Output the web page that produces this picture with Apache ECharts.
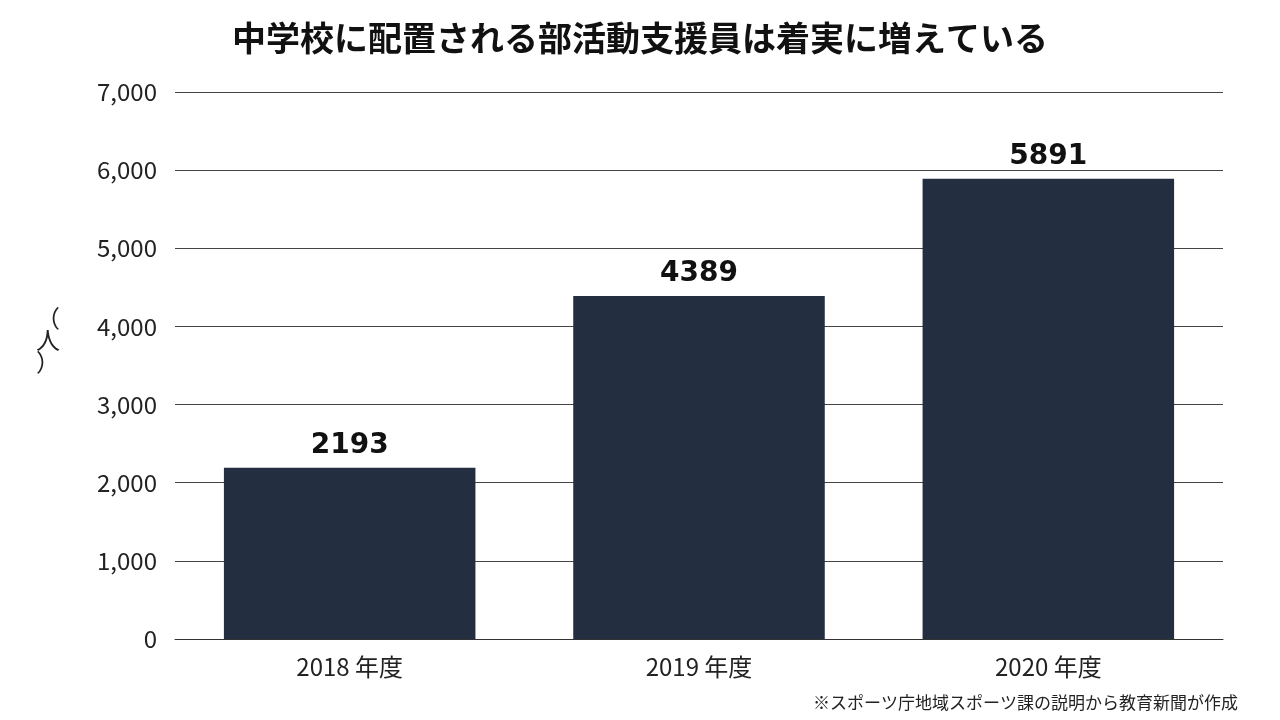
<!DOCTYPE html>
<html><head><meta charset="utf-8">
<script src="https://cdn.jsdelivr.net/npm/echarts@6/dist/echarts.min.js"></script>
<style>html,body{margin:0;background:#fff}#c{width:1280px;height:720px}</style>
</head><body><div id="c"></div>
<script>
const categories = ["2018 年度", "2019 年度", "2020 年度"];
const values = [2193, 4389, 5891];
const font = "'Noto Sans CJK JP', 'Noto Sans', sans-serif";

const chart = echarts.init(document.getElementById("c"));
chart.setOption({
  animation: false,
  title: {
    text: "中学校に配置される部活動支援員は着実に増えている",
    left: "center", top: 16,
    textStyle: { fontFamily: font, fontSize: 34, fontWeight: "bold", color: "#111" }
  },
  graphic: [
    { type: "text", left: 36, top: 306, style: { text: "（\n人\n）", font: "24px " + font, fill: "#222", lineHeight: 22 } },
    { type: "text", right: 42, top: 694, style: { text: "※スポーツ庁地域スポーツ課の説明から教育新聞が作成", font: "17px " + font, fill: "#222" } }
  ],
  grid: { left: 175, right: 57, top: 92, bottom: 81 },
  xAxis: {
    type: "category", data: categories,
    axisLine: { lineStyle: { color: "#333" } }, axisTick: { show: false },
    axisLabel: { fontFamily: font, fontSize: 24, color: "#222", margin: 16 }
  },
  yAxis: {
    type: "value", min: 0, max: 7000, interval: 1000,
    axisLabel: { fontFamily: font, fontSize: 24, color: "#222", margin: 18 },
    splitLine: { lineStyle: { color: "#444" } }
  },
  series: [{
    type: "bar", data: values, barWidth: "72%",
    itemStyle: { color: "#232e40" },
    label: { show: true, position: "top", fontFamily: "'DejaVu Sans', sans-serif", fontSize: 28, fontWeight: "bold", color: "#111", distance: 8 }
  }]
});
</script></body></html>
